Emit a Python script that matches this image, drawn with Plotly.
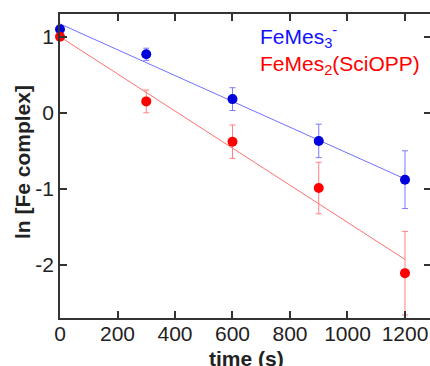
import plotly.graph_objects as go

# ---- data ----
time_s = [0, 300, 600, 900, 1200]
blue_vals = [1.10, 0.77, 0.18, -0.37, -0.88]
blue_err = [0.0, 0.08, 0.15, 0.22, 0.38]
red_vals = [1.00, 0.15, -0.38, -0.99, -2.11]
red_err = [0.0, 0.15, 0.22, 0.34, 0.55]
fit_time = [0, 1200]
blue_fit = [1.17, -0.87]
red_fit = [1.00, -1.93]
x_ticks = [0, 200, 400, 600, 800, 1000, 1200]
y_ticks = [-2, -1, 0, 1]
y_ticktext = ["-2", "-1", "0", "1"]
label_blue = "FeMes<sub>3</sub><sup>-</sup>"
label_red = "FeMes<sub>2</sub>(SciOPP)"
x_title = "<b>time (s)</b>"
y_title = "<b>ln [Fe complex]</b>"

FONT = "Liberation Sans, Arial, sans-serif"
AX = "#333333"

fig = go.Figure()
fig.add_trace(go.Scatter(x=fit_time, y=blue_fit, mode="lines",
                         line=dict(color="#7070ff", width=1), showlegend=False, hoverinfo="skip"))
fig.add_trace(go.Scatter(x=fit_time, y=red_fit, mode="lines",
                         line=dict(color="#ff7070", width=1), showlegend=False, hoverinfo="skip"))
fig.add_trace(go.Scatter(x=time_s, y=blue_vals, mode="markers",
                         marker=dict(color="#0000dd", size=10),
                         error_y=dict(type="data", array=blue_err, color="#7a7aff", thickness=1, width=3),
                         cliponaxis=False, showlegend=False))
fig.add_trace(go.Scatter(x=time_s, y=red_vals, mode="markers",
                         marker=dict(color="#ff0000", size=10),
                         error_y=dict(type="data", array=red_err, color="#ff8080", thickness=1, width=3),
                         cliponaxis=False, showlegend=False))
# invisible trace to activate the right-hand tick axis
fig.add_trace(go.Scatter(x=time_s[:1], y=blue_vals[:1], mode="lines", yaxis="y2",
                         opacity=0, showlegend=False, hoverinfo="skip"))

fig.add_annotation(x=690, y=1.00, xref="x", yref="y", text=label_blue, showarrow=False,
                   xanchor="left", yanchor="middle", font=dict(color="#1010ff", size=21, family=FONT))
fig.add_annotation(x=690, y=0.63, xref="x", yref="y", text=label_red, showarrow=False,
                   xanchor="left", yanchor="middle", font=dict(color="#ff0000", size=21, family=FONT))
# axis titles
fig.add_annotation(x=0.505, y=0, xref="paper", yref="paper", yshift=-27, text=x_title,
                   showarrow=False, xanchor="center", yanchor="top",
                   font=dict(size=21, family=FONT, color="#222222"))
fig.add_annotation(x=0, y=0.513, xref="paper", yref="paper", xshift=-38, text=y_title,
                   textangle=-90, showarrow=False, xanchor="center", yanchor="middle",
                   font=dict(size=21, family=FONT, color="#222222"))

fig.update_layout(
    width=430, height=366,
    margin=dict(l=60, r=0, t=14, b=48),
    paper_bgcolor="white", plot_bgcolor="white",
    font=dict(family=FONT, size=21, color="#222222"),
    xaxis=dict(range=[0, 1287], tickvals=x_ticks, ticks="inside", ticklen=7, tickwidth=1.5,
               tickcolor=AX, showline=True, linecolor=AX, linewidth=1.5, mirror="ticks",
               showgrid=False, zeroline=False, automargin=False, ticklabelstandoff=-4),
    yaxis=dict(range=[-2.7, 1.3], tickvals=y_ticks, ticktext=y_ticktext, ticks="inside",
               ticklen=7, tickwidth=1.5, tickcolor=AX, showline=True, linecolor=AX,
               linewidth=1.5, showgrid=False, zeroline=False, automargin=False),
    yaxis2=dict(range=[-2.7, 1.3], tickvals=y_ticks, overlaying="y", side="right",
                ticks="inside", ticklen=6, tickwidth=1.5, tickcolor=AX, showline=False,
                showticklabels=False, showgrid=False, zeroline=False, automargin=False),
)

fig.write_html("out.html", config={"displayModeBar": False},
               post_script="document.body.style.margin='0';")
